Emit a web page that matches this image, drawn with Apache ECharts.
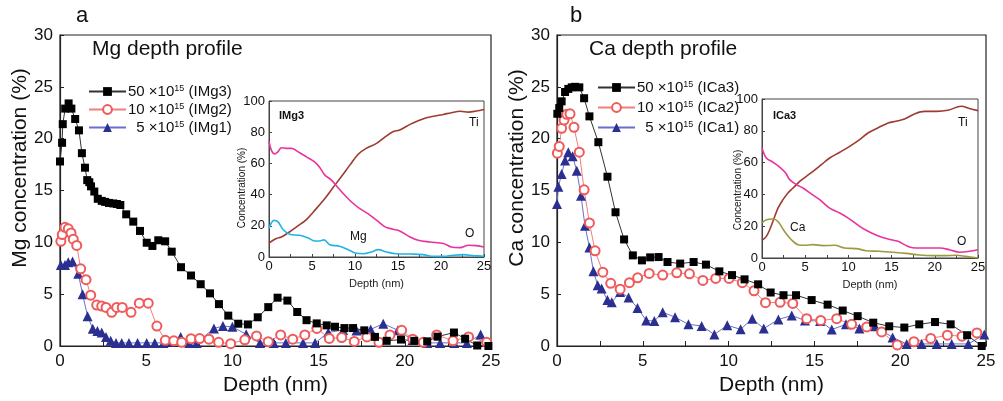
<!DOCTYPE html>
<html>
<head>
<meta charset="utf-8">
<script src="https://cdn.jsdelivr.net/npm/echarts@6/dist/echarts.min.js"></script>
<style>
  html, body { margin: 0; padding: 0; background: #fff; }
  #chart { width: 1003px; height: 401px; }
</style>
</head>
<body>
<div id="chart"></div>
<script>
// ---- Mg implanted samples: depth (nm) and Mg concentration (%) ----
const mg3Depth = [0, 0.12, 0.16, 0.3, 0.5, 0.66, 0.88, 1.1, 1.27, 1.45, 1.58, 1.7, 1.8, 1.99, 2.19, 2.42, 2.62, 2.84, 3.09, 3.3, 3.5, 3.84, 4.25, 4.64, 5.03, 5.36, 5.7, 6.1, 6.48, 7.02, 7.6, 8.16, 8.7, 9.22, 9.76, 10.34, 10.9, 11.47, 12.08, 12.62, 13.19, 13.76, 14.3, 14.89, 15.47, 15.95, 16.5, 17.0, 17.65, 18.27, 18.95, 19.78, 20.55, 21.3, 21.9, 22.85, 23.5, 24.2, 24.85];
const mg3Conc  = [17.8, 19.6, 21.4, 22.9, 23.4, 22.9, 21.9, 20.8, 18.6, 17.2, 16.0, 15.8, 15.4, 14.9, 14.2, 14.0, 13.9, 13.8, 13.75, 13.7, 13.6, 12.7, 12.0, 11.1, 9.96, 9.65, 10.2, 10.1, 9.1, 7.6, 6.8, 5.96, 5.08, 4.04, 2.93, 2.15, 2.08, 2.77, 3.75, 4.66, 4.38, 3.28, 2.49, 2.18, 1.99, 1.86, 1.73, 1.73, 1.51, 0.88, 0.5, 0.62, 0.5, 0.45, 0.9, 1.3, 0.7, 0.05, 0];

const mg2Depth = [0.05, 0.13, 0.29, 0.48, 0.64, 0.77, 0.97, 1.2, 1.51, 1.78, 2.13, 2.42, 2.67, 3.0, 3.29, 3.61, 4.12, 4.6, 5.12, 5.62, 6.11, 6.6, 7.06, 7.6, 8.1, 8.64, 9.2, 9.9, 10.72, 11.4, 12.08, 12.8, 13.5, 14.2, 14.9, 15.62, 16.34, 17.07, 17.8, 18.5, 19.14, 19.82, 20.46, 21.07, 21.85, 22.8, 23.7, 24.75];
const mg2Conc  = [10.1, 10.75, 11.45, 11.3, 10.9, 10.3, 9.7, 7.45, 6.4, 4.9, 3.95, 3.85, 3.72, 3.25, 3.72, 3.72, 3.25, 4.13, 4.13, 1.92, 0.55, 0.5, 0.35, 0.7, 0.72, 0.66, 0.35, 0.22, 0.6, 0.97, 0.41, 1.07, 0.66, 1.07, 1.7, 0.73, 0.82, 0.44, 0.88, 0.35, 1.07, 1.51, 0.66, 0.35, 1.07, 0.5, 0.88, 0.35];

const mg1Depth = [0.05, 0.29, 0.48, 0.73, 1.06, 1.31, 1.6, 1.9, 2.17, 2.42, 2.67, 2.94, 3.25, 3.58, 4.0, 4.5, 5.03, 5.5, 6.0, 6.48, 7.0, 7.5, 7.93, 8.93, 9.45, 10.0, 10.8, 11.6, 12.4, 13.1, 14.1, 14.8, 15.56, 16.42, 17.2, 18.02, 18.75, 19.6, 20.45, 21.3, 22.05, 22.87, 23.6, 24.4];
const mg1Conc  = [7.82, 7.82, 8.07, 8.14, 6.97, 4.99, 2.87, 1.67, 1.45, 1.3, 0.88, 0.5, 0.3, 0.3, 0.3, 0.3, 0.3, 0.3, 0.3, 0.44, 0.88, 0.3, 0.3, 1.7, 1.92, 1.85, 1.13, 0.3, 0.3, 0.3, 0.3, 0.3, 1.3, 1.55, 1.5, 1.6, 2.15, 1.52, 0.58, 0.3, 0.3, 0.3, 0.3, 1.1];

// ---- Ca implanted samples ----
const ca3Depth = [0.02, 0.13, 0.27, 0.47, 0.66, 0.86, 1.05, 1.3, 1.58, 1.89, 2.41, 2.94, 3.41, 3.91, 4.42, 4.95, 5.43, 5.92, 6.44, 7.18, 7.96, 8.68, 9.46, 10.2, 10.93, 11.72, 12.45, 13.2, 13.93, 14.84, 15.77, 16.65, 17.52, 18.43, 19.36, 20.24, 21.11, 22.03, 22.94, 23.9, 24.75];
const ca3Conc  = [22.4, 22.95, 23.6, 24.5, 24.8, 24.95, 25.0, 24.95, 23.9, 22.15, 19.66, 16.33, 12.9, 10.28, 8.74, 8.26, 8.55, 8.58, 8.1, 7.95, 8.1, 7.85, 7.2, 6.84, 6.43, 5.95, 5.16, 4.9, 4.9, 4.43, 3.99, 3.42, 2.88, 2.25, 1.9, 1.78, 2.09, 2.31, 2.09, 1.04, 0];

const ca2Depth = [0.02, 0.13, 0.27, 0.41, 0.57, 0.76, 0.99, 1.3, 1.58, 1.89, 2.22, 2.67, 3.13, 3.68, 4.22, 4.7, 5.37, 6.16, 6.98, 7.72, 8.5, 9.25, 10.03, 10.8, 11.48, 12.15, 13.0, 13.74, 14.55, 15.37, 16.3, 17.17, 18.05, 18.92, 19.83, 20.8, 21.78, 22.75, 23.6, 24.47];
const ca2Conc  = [18.6, 19.25, 21.0, 21.8, 22.35, 22.4, 21.1, 18.7, 15.07, 11.87, 9.18, 7.12, 6.05, 5.48, 6.11, 6.58, 7.0, 6.84, 7.06, 6.96, 6.33, 6.52, 6.52, 6.11, 5.32, 4.18, 4.21, 4.11, 2.63, 2.47, 2.63, 2.09, 1.84, 1.36, 0.1, 0.41, 0.73, 1.04, 0.95, 1.26];

const ca1Depth = [0.0, 0.08, 0.27, 0.47, 0.66, 0.91, 1.15, 1.4, 1.63, 1.89, 2.12, 2.37, 2.6, 2.94, 3.19, 3.68, 4.17, 4.69, 5.2, 5.67, 6.16, 6.88, 7.66, 8.43, 9.17, 9.92, 10.7, 11.38, 12.05, 12.9, 13.68, 14.45, 15.33, 16.01, 16.84, 17.62, 18.53, 19.56, 20.38, 21.25, 22.13, 23.0, 23.97, 24.9];
const ca1Conc  = [13.7, 15.36, 16.6, 17.9, 18.7, 18.3, 16.9, 14.5, 11.6, 9.5, 7.22, 5.86, 5.54, 4.43, 4.21, 5.22, 4.68, 3.67, 2.47, 2.4, 3.26, 2.78, 2.09, 1.93, 1.11, 1.99, 1.61, 2.63, 1.68, 2.56, 2.94, 2.47, 2.4, 1.58, 2.09, 1.68, 1.9, 0.83, 0.2, 0.2, 0.2, 0.2, 0.2, 1.1];

// ---- Inset profiles (IMg3 / ICa3): element concentration (%) vs depth ----
const aTiDepth = [0, 0.85, 1.44, 2.2, 3.2, 4.35, 5.5, 6.5, 7.45, 8.4, 9.4, 10.4, 11.3, 12.5, 13.5, 14.4, 15.2, 16.4, 17.35, 18.3, 19.3, 20.26, 21.2, 22.2, 23.2, 24.1, 25];
const aTiConc  = [9, 11.8, 12.8, 15.4, 19.3, 24, 31, 37.5, 44.5, 51.4, 58.9, 66, 69.6, 72.8, 77, 80.3, 81.4, 85, 87.4, 89.3, 90.4, 91.4, 92.5, 93.4, 92.9, 93.6, 94.6];
const aODepth  = [0, 0.27, 0.66, 1.05, 1.44, 2.0, 2.6, 3.57, 4.35, 5.3, 5.9, 6.5, 7.26, 8.0, 9.0, 9.8, 10.56, 11.5, 12.5, 13.5, 14.4, 15.2, 16.4, 17.35, 18.7, 20.3, 21.2, 22.2, 23.2, 24.1, 25];
const aOConc   = [74.3, 68.5, 66, 67.5, 70, 69.6, 69.6, 66.8, 64.2, 61, 57.4, 52.5, 49.3, 44.5, 38.5, 34.3, 31, 27.8, 23.6, 19.3, 17.8, 16.7, 12.8, 10.7, 9.6, 8.6, 6.4, 6, 7.5, 7.3, 6.4];
const aMgDepth = [0, 0.27, 0.58, 1.05, 1.63, 2.4, 3.57, 4.5, 5.3, 5.9, 6.4, 7.07, 8.2, 9.2, 10.0, 11.0, 11.9, 12.7, 13.7, 14.8, 16.4, 17.9, 19.1, 20.3, 21.4, 22.6, 23.8, 25];
const aMgConc  = [18.2, 21.8, 23.5, 22.5, 17.6, 14.6, 13.9, 12.4, 10.3, 10.3, 11, 7.9, 6.9, 4.7, 2.6, 2.1, 3.2, 4.7, 3.2, 2.1, 1.9, 1.5, 0.4, 0.4, 1.1, 1.5, 0.9, 0.4];

const bTiDepth = [0, 0.5, 0.89, 1.27, 1.85, 2.43, 3.0, 3.6, 4.36, 5.13, 5.9, 6.87, 7.83, 9.0, 10.15, 11.3, 12.27, 13.4, 14.6, 15.5, 16.5, 17.65, 18.8, 20.2, 21.5, 23.07, 24.0, 25];
const bTiConc  = [11.1, 13.6, 17.8, 23.1, 31.4, 36.7, 40.9, 44, 48.2, 51.4, 54.5, 58.7, 62.9, 66.5, 70.2, 74.4, 78.6, 81.8, 84.9, 86, 87.4, 90.6, 92.2, 92.2, 92.9, 95.4, 94, 92.7];
const bODepth  = [0, 0.5, 1.27, 2.04, 2.74, 3.2, 4.0, 4.75, 5.7, 6.67, 7.83, 9.0, 10.15, 11.3, 12.27, 13.4, 14.6, 15.74, 16.9, 17.86, 19.0, 20.6, 21.7, 22.9, 24.0, 25];
const bOConc   = [69.2, 62.9, 60.2, 57.2, 53.5, 49.3, 46.1, 44, 40.3, 36.7, 31.4, 28.3, 24.5, 19.9, 16.8, 14, 11.9, 10.5, 7.3, 6.3, 6.3, 6.3, 5.2, 3.6, 4.2, 5.2];
const bCaDepth = [0, 0.5, 1.27, 1.85, 2.6, 3.4, 4.17, 4.94, 5.9, 7.06, 8.4, 9.57, 10.9, 12.07, 13.6, 15.16, 16.7, 18.2, 19.8, 21.3, 22.5, 23.6, 25];
const bCaConc  = [22, 24.1, 24.5, 23, 16.8, 11.5, 8.4, 8.0, 8.4, 7.8, 8.0, 6.3, 5.9, 4.6, 4.2, 3.6, 2.9, 1.9, 1.5, 1.5, 1.7, 1.0, 0];

// ---- Axis ticks and labels ----
const depthTicks = { min: 0, max: 25, interval: 5 };
const mainConcTicks = { min: 0, max: 30, interval: 5 };
const insetConcTicks = { min: 0, max: 100, interval: 20 };
const legendLabels = {
  IMg3: ['50', 'IMg3'], IMg2: ['10', 'IMg2'], IMg1: ['5', 'IMg1'],
  ICa3: ['50', 'ICa3'], ICa2: ['10', 'ICa2'], ICa1: ['5', 'ICa1']
};

const FONT = '"Liberation Sans", Arial, sans-serif';
const pairs = (d, v) => d.map((x, i) => [x, v[i]]);

const chart = echarts.init(document.getElementById('chart'), null, { renderer: 'canvas' });

function mainX(gridIndex) {
  return {
    type: 'value', gridIndex, ...depthTicks,
    name: 'Depth (nm)', nameLocation: 'middle', nameGap: 29,
    nameTextStyle: { fontFamily: FONT, fontSize: 21, color: '#111' },
    axisLine: { lineStyle: { color: '#222', width: 1.2 } },
    axisTick: { inside: true, length: 5, lineStyle: { color: '#222' } },
    minorTick: { show: true, splitNumber: 2, length: 5, lineStyle: { color: '#222' } },
    axisLabel: { fontFamily: FONT, fontSize: 17, color: '#111', margin: 7 },
    splitLine: { show: false }
  };
}
function mainY(gridIndex) {
  return {
    type: 'value', gridIndex, ...mainConcTicks,
    axisLine: { lineStyle: { color: '#222', width: 1.2 } },
    axisTick: { inside: true, length: 4, lineStyle: { color: '#222' } },
    axisLabel: { fontFamily: FONT, fontSize: 17, color: '#111', margin: 7 },
    splitLine: { show: false }
  };
}
function insetX(gridIndex) {
  return {
    type: 'value', gridIndex, ...depthTicks,
    name: 'Depth (nm)', nameLocation: 'middle', nameGap: 21,
    nameTextStyle: { fontFamily: FONT, fontSize: 11, color: '#222' },
    axisLine: { lineStyle: { color: '#444', width: 1 } },
    axisTick: { inside: true, length: 3, lineStyle: { color: '#444' } },
    minorTick: { show: true, splitNumber: 2, length: 3, lineStyle: { color: '#444' } },
    axisLabel: { fontFamily: FONT, fontSize: 13, color: '#111', margin: 3 },
    splitLine: { show: false }
  };
}
function insetY(gridIndex) {
  return {
    type: 'value', gridIndex, ...insetConcTicks,
    axisLine: { lineStyle: { color: '#444', width: 1 } },
    axisTick: { inside: true, length: 3, lineStyle: { color: '#444' } },
    axisLabel: { fontFamily: FONT, fontSize: 13, color: '#111', margin: 4 },
    splitLine: { show: false }
  };
}

const styles = {
  black: { symbol: 'rect', symbolSize: 8, itemStyle: { color: '#000' }, lineStyle: { color: '#333', width: 1 } },
  red:   { symbol: 'emptyCircle', symbolSize: 9, itemStyle: { color: '#ef5a5a', borderWidth: 1.2 }, lineStyle: { color: '#f07f7f', width: 1 } },
  blue:  { symbol: 'triangle', symbolSize: 10, itemStyle: { color: '#2b2f8f' }, lineStyle: { color: '#6b6fc8', width: 1 } }
};

function dotSeries(name, gi, data, st) {
  return {
    type: 'line', name, xAxisIndex: gi, yAxisIndex: gi, data,
    showSymbol: true, symbol: st.symbol, symbolSize: st.symbolSize,
    itemStyle: st.itemStyle, lineStyle: st.lineStyle,
    emphasis: { disabled: true }, animation: false, clip: false
  };
}
function profileSeries(gi, data, color) {
  return {
    type: 'line', xAxisIndex: gi, yAxisIndex: gi, data,
    showSymbol: false, smooth: 0.35,
    lineStyle: { color, width: 1.6 }, emphasis: { disabled: true }, animation: false
  };
}

function legendFor(names, left, top, gap) {
  return {
    data: names, orient: 'vertical', left, top, itemGap: gap, padding: 0,
    itemWidth: 37, itemHeight: 11, selectedMode: false,
    formatter: (n) => {
      const [dose, id] = legendLabels[n];
      const pad = dose.length === 1 ? '  ' : '';
      return '{n|' + pad + dose + ' \u00d710}{s|15}{n| (' + id + ')}';
    },
    textStyle: {
      fontFamily: FONT, color: '#111', padding: [0, 0, 0, -3],
      rich: {
        n: { fontFamily: FONT, fontSize: 15, color: '#111', lineHeight: 15 },
        s: { fontFamily: FONT, fontSize: 9, color: '#111', verticalAlign: 'top', lineHeight: 15 }
      }
    }
  };
}

function label(text, x, y, size, weight, align, rotation) {
  return {
    type: 'text', x, y, rotation: rotation || 0,
    style: { text, fontFamily: FONT, fontSize: size, fontWeight: weight || 'normal',
             fill: '#111', textAlign: align || 'left', textVerticalAlign: 'middle' }
  };
}
const UP = Math.PI / 2;

const option = {
  backgroundColor: '#fff',
  animation: false,
  grid: [
    { left: 60, top: 35, width: 431, height: 317, show: true, borderColor: '#222', borderWidth: 1.2, backgroundColor: 'transparent' },
    { left: 557, top: 35, width: 429, height: 316, show: true, borderColor: '#222', borderWidth: 1.2, backgroundColor: 'transparent' },
    { left: 269, top: 101, width: 215, height: 156, show: true, borderColor: '#444', borderWidth: 1, backgroundColor: '#fff' },
    { left: 762, top: 99, width: 216, height: 159, show: true, borderColor: '#444', borderWidth: 1, backgroundColor: '#fff' }
  ],
  xAxis: [mainX(0), mainX(1), insetX(2), insetX(3)],
  yAxis: [mainY(0), mainY(1), insetY(2), insetY(3)],
  legend: [
    legendFor(['IMg3', 'IMg2', 'IMg1'], 88, 84, 3),
    legendFor(['ICa3', 'ICa2', 'ICa1'], 597, 80, 5)
  ],
  series: [
    dotSeries('IMg1', 0, pairs(mg1Depth, mg1Conc), styles.blue),
    dotSeries('IMg2', 0, pairs(mg2Depth, mg2Conc), styles.red),
    dotSeries('IMg3', 0, pairs(mg3Depth, mg3Conc), styles.black),
    dotSeries('ICa1', 1, pairs(ca1Depth, ca1Conc), styles.blue),
    dotSeries('ICa2', 1, pairs(ca2Depth, ca2Conc), styles.red),
    dotSeries('ICa3', 1, pairs(ca3Depth, ca3Conc), styles.black),
    profileSeries(2, pairs(aTiDepth, aTiConc), '#9e3b30'),
    profileSeries(2, pairs(aODepth, aOConc), '#e8339c'),
    profileSeries(2, pairs(aMgDepth, aMgConc), '#22b4e6'),
    profileSeries(3, pairs(bTiDepth, bTiConc), '#9e3b30'),
    profileSeries(3, pairs(bODepth, bOConc), '#e8339c'),
    profileSeries(3, pairs(bCaDepth, bCaConc), '#9c9a3e')
  ],
  graphic: [
    label('a', 82, 16, 22, 'normal', 'center'),
    label('b', 576, 16, 22, 'normal', 'center'),
    label('Mg depth profile', 92, 49, 21),
    label('Ca depth profile', 589, 49, 21),
    // rotated axis titles
    label('Mg concentration (%)', 20, 168, 21, 'normal', 'center', UP),
    label('Ca concentration (%)', 517, 168, 21, 'normal', 'center', UP),
    label('Concentration (%)', 242, 188, 10, 'normal', 'center', UP),
    label('Concentration (%)', 738, 190, 10, 'normal', 'center', UP),
    // inset annotations
    label('IMg3', 279, 116, 11, 'bold'),
    label('Ti', 469, 123, 12),
    label('O', 465, 234, 12),
    label('Mg', 350, 237, 12),
    label('ICa3', 773, 116, 11, 'bold'),
    label('Ti', 958, 123, 12),
    label('O', 957, 242, 12),
    label('Ca', 790, 228, 12)
  ]
};

chart.setOption(option);
</script>
</body>
</html>
